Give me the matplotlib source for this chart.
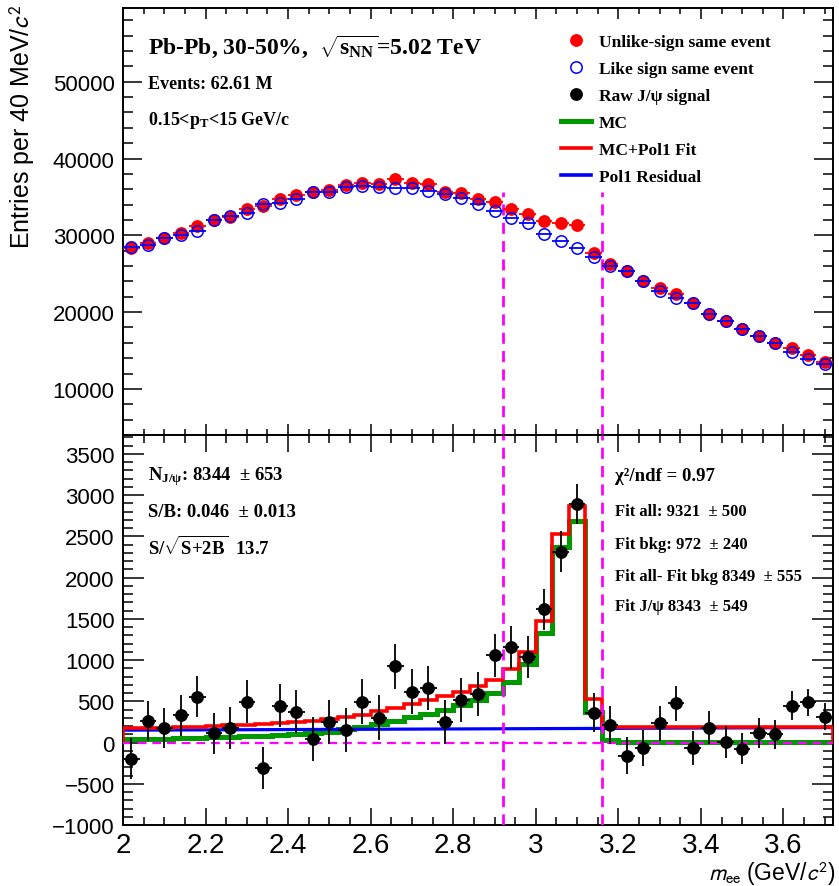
import matplotlib
matplotlib.use("Agg")
import matplotlib.pyplot as plt
from matplotlib.lines import Line2D
import numpy as np

# ---- data (40 MeV bins, 2.00 - 3.72 GeV/c^2)
mass = np.round(2.02 + 0.04 * np.arange(43), 2)
bin_edges = np.round(2.00 + 0.04 * np.arange(44), 2)

unlike_sign = [28400, 29050, 29700, 30350, 31200, 31990, 32430, 33470, 33800, 34675,
               35200, 35620, 35840, 36490, 36840, 36620, 37270, 36840, 36620, 35620,
               35540, 34760, 34300, 33480, 32730, 31860, 31640, 31300, 27750, 26230,
               25370, 24070, 23080, 22340, 21170, 19740, 18870, 17790, 16920, 15970,
               15280, 14420, 13550]
like_sign = [28530, 28700, 29700, 30040, 30560, 31990, 32560, 32940, 34120, 34240,
             34760, 35620, 35620, 36320, 36400, 36320, 36190, 36100, 35750, 35320,
             34890, 34120, 33160, 32300, 31640, 30130, 29260, 28400, 27230, 26010,
             25370, 24070, 22770, 21820, 21170, 19740, 18870, 17790, 16840, 15970,
             14840, 13900, 13250]

signal = [-195, 260, 180, 333, 558, 110, 180, 497, -309, 448,
          375, 40, 244, 150, 497, 301, 924, 619, 659, 252,
          516, 586, 1058, 1155, 1033, 1614, 2314, 2895, 362, 211,
          -162, -65, 232, 476, -65, 179, 9, -73, 118, 98,
          448, 488, 314]
signal_err = [245, 245, 245, 248, 250, 252, 255, 258, 260, 262,
              264, 266, 267, 268, 269, 270, 270, 270, 269, 268,
              266, 264, 262, 259, 256, 252, 248, 245, 235, 228,
              224, 219, 214, 209, 205, 199, 194, 188, 183, 178,
              172, 166, 162]

mc = [40, 44, 48, 52, 57, 62, 68, 75, 83, 92,
      102, 113, 126, 160, 185, 225, 265, 305, 350, 400,
      455, 516, 598, 740, 952, 1330, 2375, 2684, 374, 28,
      12, 10, 9, 8, 7, 7, 6, 6, 5, 5,
      5, 4, 4]
mc_pol1 = [171, 176, 181, 187, 193, 200, 208, 216, 225, 235,
           246, 258, 280, 305, 340, 380, 420, 465, 512, 562,
           618, 680, 760, 894, 1098, 1472, 2529, 2863, 528, 191,
           190, 190, 190, 190, 190, 190, 190, 190, 190, 190,
           190, 190, 190]
pol1_x = [2.00, 3.72]
pol1_y = [150, 182]

window = [2.92, 3.16]
window_top = 35700

serif = "Liberation Serif"
sans = "Liberation Sans"
plt.rcParams["font.family"] = sans
plt.rcParams["mathtext.fontset"] = "custom"
plt.rcParams["mathtext.rm"] = "Liberation Serif:bold"
plt.rcParams["mathtext.it"] = "Liberation Serif:italic:bold"
plt.rcParams["mathtext.bf"] = "Liberation Serif:bold"

W, H = 839, 887
fig = plt.figure(figsize=(W / 100, H / 100), dpi=100)
L, R = 123, 833
ax1 = fig.add_axes([L / W, 1 - 436 / H, (R - L) / W, 427 / H])
ax2 = fig.add_axes([L / W, 1 - 826 / H, (R - L) / W, 390 / H], sharex=ax1)

magenta = "#ff00ff"
green = "#009a00"

# ---- top panel
ax1.errorbar(mass, unlike_sign, xerr=0.02, fmt="o", color="red", ms=8.2,
             elinewidth=1.3, capsize=0, zorder=3)
ax1.errorbar(mass, like_sign, xerr=0.02, fmt="o", mfc="none", mec="blue",
             ecolor="blue", ms=8.2, mew=1.1, elinewidth=1.3, capsize=0, zorder=4)
ax1.vlines(window, 4000, window_top, colors=magenta, linestyles=(0, (4, 2.6)), lw=2, zorder=2)
ax1.set_xlim(2.0, 3.72)
ax1.set_ylim(4000, 59600)
ax1.set_yticks([10000, 20000, 30000, 40000, 50000])
ax1.set_yticks(np.arange(6000, 59600, 2000), minor=True)

# ---- bottom panel
ax2.stairs(mc, bin_edges, color=green, lw=3.6, zorder=2)
ax2.plot(pol1_x, pol1_y, color="blue", lw=2.3, zorder=3)
ax2.stairs(mc_pol1, bin_edges, color="red", lw=2.6, zorder=4)
ax2.axhline(0, color=magenta, ls=(0, (4, 2.6)), lw=1.6, zorder=5)
ax2.vlines(window, -1000, 3730, colors=magenta, linestyles=(0, (4, 2.6)), lw=2, zorder=5)
ax2.errorbar(mass, signal, xerr=0.02, yerr=signal_err, fmt="o", color="black",
             ms=8.2, elinewidth=1.3, capsize=0, zorder=6)
ax2.set_ylim(-1000, 3730)
ax2.set_yticks(np.arange(-1000, 3600, 500))
ax2.set_yticks(np.arange(-1000, 3730, 100), minor=True)
ax2.set_xticks([2.0, 2.2, 2.4, 2.6, 2.8, 3.0, 3.2, 3.4, 3.6])
ax2.set_xticks(np.arange(2.0, 3.72, 0.05), minor=True)
ax2.set_xticklabels(["2", "2.2", "2.4", "2.6", "2.8", "3", "3.2", "3.4", "3.6"])

for ax in (ax1, ax2):
    ax.tick_params(which="both", direction="in", top=True, right=True, width=1.1, colors="black")
    for s in ax.spines.values():
        s.set_linewidth(1.4)
ax1.tick_params(axis="y", which="major", length=14, labelsize=16, pad=6)
ax1.tick_params(axis="y", which="minor", length=7)
ax1.tick_params(axis="x", which="major", length=8, labelbottom=False)
ax1.tick_params(axis="x", which="minor", length=4)
ax2.tick_params(axis="y", which="major", length=15, labelsize=16, pad=6)
ax2.tick_params(axis="y", which="minor", length=7)
ax2.tick_params(axis="x", which="major", length=12, labelsize=20, pad=5)
ax2.tick_params(axis="x", which="minor", length=6)

# ---- labels
fig.text(22 / W, 1 - 4 / H, "Entries per 40 MeV/$c^{2}$", rotation=90, ha="center", va="top",
         fontsize=18, math_fontfamily="stixsans")
fig.text(835 / W, 1 - 881 / H, "$m_{\\rm ee}$ (GeV/$c^{2}$)", ha="right", va="baseline",
         fontsize=16.5, math_fontfamily="stixsans")

# ---- top panel text
tb = dict(family=serif, weight="bold", transform=ax1.transAxes, va="center", ha="left")
ax1.text(0.035, 0.911, "Pb-Pb, 30-50%,  $\\sqrt{\\rm s_{NN}}$=5.02 TeV", fontsize=17, **tb)
ax1.text(0.035, 0.824, "Events: 62.61 M", fontsize=13, **tb)
ax1.text(0.035, 0.738, "0.15<$\\rm p_{T}$<15 GeV/c", fontsize=13, **tb)

handles = [
    Line2D([], [], ls="none", marker="o", color="red", ms=8.2),
    Line2D([], [], ls="none", marker="o", mfc="none", mec="blue", mew=1.1, ms=8.2),
    Line2D([], [], ls="none", marker="o", color="black", ms=8.2),
    Line2D([], [], color=green, lw=3.6),
    Line2D([], [], color="red", lw=2.6),
    Line2D([], [], color="blue", lw=2.6),
]
labels = ["Unlike-sign same event", "Like sign same event", "Raw J/ψ signal",
          "MC", "MC+Pol1 Fit", "Pol1 Residual"]
ax1.legend(handles, labels, loc="upper left", bbox_to_anchor=((561 - L) / (R - L), (436 - 35) / 427),
           frameon=False, prop=dict(family=serif, weight="bold", size=12.5),
           handlelength=1.75, handletextpad=0.45, labelspacing=0.62, borderpad=0, borderaxespad=0)

# ---- bottom panel text
bb = dict(family=serif, weight="bold", transform=ax2.transAxes, va="center", ha="left")
ax2.text(0.035, 0.897, "N$_{\\rm J/ψ}$: 8344  ± 653", fontsize=13.5, **bb)
ax2.text(0.035, 0.805, "S/B: 0.046  ± 0.013", fontsize=13.5, **bb)
ax2.text(0.035, 0.715, "S/$\\sqrt{\\rm S{+}2B}$  13.7", fontsize=13.5, **bb)
ax2.text(0.693, 0.897, "χ²/ndf = 0.97", fontsize=13.5, **bb)
ax2.text(0.693, 0.805, "Fit all: 9321  ± 500", fontsize=12, **bb)
ax2.text(0.693, 0.720, "Fit bkg: 972  ± 240", fontsize=12, **bb)
ax2.text(0.693, 0.638, "Fit all- Fit bkg 8349  ± 555", fontsize=12, **bb)
ax2.text(0.693, 0.562, "Fit J/ψ 8343  ± 549", fontsize=12, **bb)

fig.savefig("out.png", dpi=100)
